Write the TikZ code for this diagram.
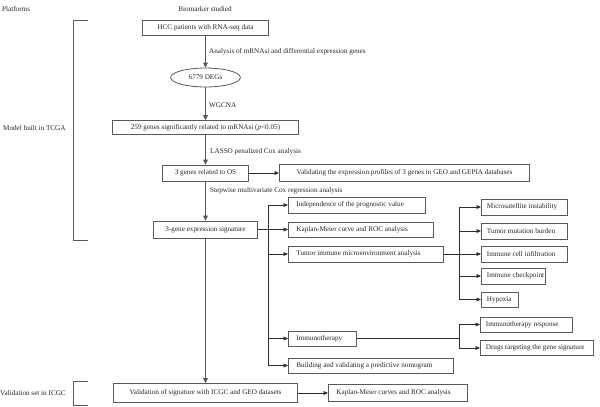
\documentclass[tikz,border=0pt]{standalone}
\usepackage{fontspec}
\setmainfont{Liberation Serif}
\usetikzlibrary{arrows.meta,shapes.geometric}
\definecolor{boxgray}{HTML}{5A5A5A}
\definecolor{linegray}{HTML}{2E2E2E}
\definecolor{spinegray}{HTML}{555555}
\newcommand\figfont{\fontsize{7.2}{8.6}\selectfont}
\newcommand\lefttext[2]{\makebox[#1bp][l]{#2}}
\begin{document}
\begin{tikzpicture}[x=1bp,y=-1bp,
  box/.style={draw=boxgray,line width=0.8bp,inner sep=0pt,font=\figfont,text=black!85},
  lboxa/.style={box,inner xsep=8bp,anchor=west},
  lboxb/.style={box,inner xsep=5.5bp,anchor=west},
  oval/.style={draw=boxgray,line width=0.8bp,ellipse,inner sep=0pt,font=\figfont,text=black!85},
  lbl/.style={font=\figfont,inner sep=0pt,anchor=west,text=black!85},
  ln/.style={draw=linegray,line width=0.8bp},
  arr/.style={ln,-{Triangle[length=4.5bp,width=3.8bp]}},
  spine/.style={draw=spinegray,line width=1.4bp,-{Triangle[length=5bp,width=4.5bp]}},
  brk/.style={draw=boxgray,line width=0.8bp}
]
\useasboundingbox (0,0) rectangle (600,406);

% headings and side labels
\node[lbl] (plat) at (2,9) {Platforms};
\node[font=\figfont,inner sep=0pt,text=black!85] (bio) at (205,9) {Biomarker studied};
\node[lbl] (tcga) at (3,128) {Model built in TCGA};
\node[lbl] (icgc) at (0,393) {Validation set in ICGC};

% brackets
\draw[brk] (88,20) -- (73,20) -- (73,240) -- (88,240);
\draw[brk] (88,381) -- (73,381) -- (73,405) -- (88,405);

% spine nodes
\node[box,minimum width=126,minimum height=15] (hcc) at (205.5,28) {HCC patients with RNA-seq data};
\node[oval,minimum width=70,minimum height=19] (degs) at (205.5,77.5) {6779 DEGs};
\node[box,minimum width=186,minimum height=14] (g259) at (205.5,127.5) {259 genes significantly related to mRNAsi (\textit{p}<0.05)};
\node[box,minimum width=86,minimum height=16] (g3) at (205.5,173) {3 genes related to OS};
\node[box,minimum width=251,minimum height=17] (valid) at (404.5,173) {Validating the expression profiles of 3 genes in GEO and GEPIA databases};
\node[box,minimum width=104,minimum height=17] (sig) at (205.5,229.5) {3-gene expression signature};
\node[box,minimum width=184,minimum height=19] (vsig) at (205.5,393) {Validation of signature with ICGC and GEO datasets};
\node[lboxa,minimum height=17] (kmc) at (328,393) {\lefttext{123}{Kaplan-Meier curves and ROC analysis}};

% first branch
\node[lboxa,minimum height=16] (ind) at (288,205) {\lefttext{121}{Independence of the prognostic value}};
\node[lboxa,minimum height=15] (km) at (288,229.5) {\lefttext{129}{Kaplan-Meier curve and ROC analysis}};
\node[lboxa,minimum height=16] (tme) at (288,254) {\lefttext{139}{Tumor immune microenvironment analysis}};
\node[lboxa,minimum height=15] (immu) at (288,338.5) {\lefttext{52}{Immunotherapy}};
\node[lboxa,minimum height=15] (nomo) at (288,365.5) {\lefttext{149}{Building and validating a predictive nomogram}};

% second branch
\node[lboxb,minimum height=16] (msi) at (481,207) {\lefttext{75}{Microsatellite instability}};
\node[lboxb,minimum height=16] (tmb) at (481,231) {\lefttext{75}{Tumor mutation burden}};
\node[lboxb,minimum height=16] (ici) at (481,254) {\lefttext{75}{Immune cell infiltration}};
\node[lboxb,minimum height=16] (icp) at (481,276) {\lefttext{53}{Immune checkpoint}};
\node[lboxb,minimum height=15] (hyp) at (481,299.5) {\lefttext{26}{Hypoxia}};

% third branch
\node[lboxb,minimum height=15] (ir) at (480,324.5) {\lefttext{81}{Immunotherapy response}};
\node[lboxb,minimum height=15] (drugs) at (480,348) {\lefttext{102}{Drugs targeting the gene signature}};

% spine labels
\node[lbl] (l1) at (209,52) {Analysis of mRNAsi and differential expression genes};
\node[lbl] (l2) at (209,105) {WGCNA};
\node[lbl] (l3) at (210,152) {LASSO penalized Cox analysis};
\node[lbl] (l4) at (210,191) {Stepwise multivariate Cox regression analysis};

% spine arrows
\draw[spine] (hcc.south) -- (degs.north);
\draw[spine] (degs.south) -- (g259.north);
\draw[spine] (g259.south) -- (g3.north);
\draw[spine] (g3.south) -- (sig.north);
\draw[spine] (sig.south) -- (vsig.north);

\draw[arr] (g3.east) -- (valid.west);
\draw[arr] (vsig.east) -- (kmc.west);

% branch 1
\coordinate (b1) at (268,0);
\draw[arr] (sig.east) -- (km.west);
\draw[ln] (b1 |- ind.west) -- (b1 |- nomo.west);
\draw[arr] (b1 |- ind.west) -- (ind.west);
\draw[arr] (b1 |- tme.west) -- (tme.west);
\draw[arr] (b1 |- immu.west) -- (immu.west);
\draw[arr] (b1 |- nomo.west) -- (nomo.west);

% branch 2
\coordinate (b2) at (459,0);
\draw[arr] (tme.east) -- (ici.west);
\draw[ln] (b2 |- msi.west) -- (b2 |- hyp.west);
\draw[arr] (b2 |- msi.west) -- (msi.west);
\draw[arr] (b2 |- tmb.west) -- (tmb.west);
\draw[arr] (b2 |- icp.west) -- (icp.west);
\draw[arr] (b2 |- hyp.west) -- (hyp.west);

% branch 3
\draw[ln] (immu.east) -- (b2 |- immu.east);
\draw[ln] (b2 |- ir.west) -- (b2 |- drugs.west);
\draw[arr] (b2 |- ir.west) -- (ir.west);
\draw[arr] (b2 |- drugs.west) -- (drugs.west);
\end{tikzpicture}
\end{document}
